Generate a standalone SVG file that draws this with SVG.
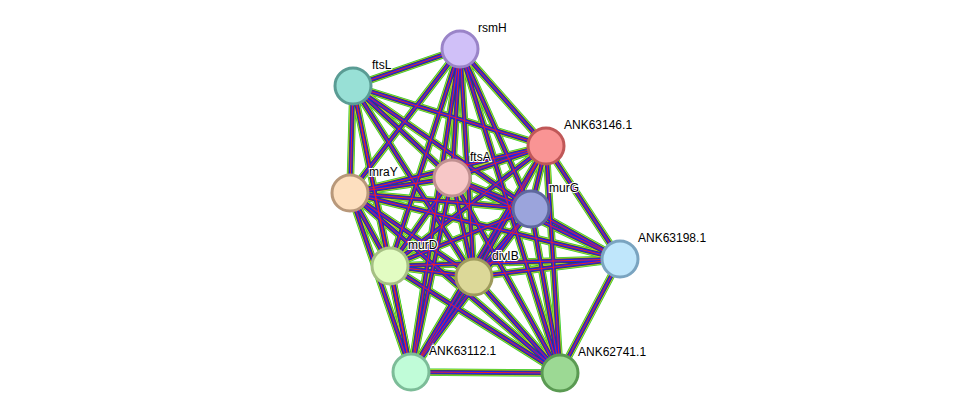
<svg xmlns="http://www.w3.org/2000/svg" xmlns:xlink="http://www.w3.org/1999/xlink" width="975" height="419" viewBox="0 0 975 419">
<style>
text{font-family:"Liberation Sans",Arial,sans-serif;font-size:12px;fill:#000;paint-order:stroke;stroke:#fff;stroke-width:2px}
circle{stroke-width:3}
</style>
<defs>
<g id="E" fill="none">
<path d="M460,49L353,86M460,49L546,146M460,49L452,178M460,49L350,193M460,49L531,209M460,49L390,266M460,49L474,277M460,49L411,372M460,49L560,373"/>
<path d="M353,86L546,146M353,86L452,178M353,86L350,193M353,86L531,209M353,86L390,266M353,86L474,277M353,86L411,372"/>
<path d="M546,146L452,178M546,146L350,193M546,146L531,209M546,146L620,259M546,146L390,266M546,146L474,277M546,146L411,372M546,146L560,373"/>
<path d="M452,178L350,193M452,178L531,209M452,178L620,259M452,178L390,266M452,178L474,277M452,178L411,372M452,178L560,373"/>
<path d="M350,193L531,209M350,193L620,259M350,193L390,266M350,193L474,277M350,193L411,372M350,193L560,373"/>
<path d="M531,209L620,259M531,209L390,266M531,209L474,277M531,209L411,372M531,209L560,373"/>
<path d="M620,259L390,266M620,259L474,277M620,259L560,373"/>
<path d="M390,266L474,277M390,266L411,372M390,266L560,373M474,277L411,372M474,277L560,373M411,372L560,373"/>
</g>
</defs>
<g id="connectors">
<use xlink:href="#E" stroke="#33cc33" stroke-width="7.5"/>
<use xlink:href="#E" stroke="#c4d82e" stroke-width="6"/>
<use xlink:href="#E" stroke="#444444" stroke-width="4.5"/>
<use xlink:href="#E" stroke="#2222ee" stroke-width="3"/>
<use xlink:href="#E" stroke="#ee2222" stroke-width="1"/>
</g>
<g id="rsmH"><circle cx="460" cy="49" r="18" fill="#d0c0f8" stroke="#9a84c8"/><text x="478" y="32">rsmH</text></g>
<g id="ftsL"><circle cx="353" cy="86" r="18" fill="#98e0d6" stroke="#5a9c94"/><text x="372" y="69">ftsL</text></g>
<g id="ANK63146.1"><circle cx="546" cy="146" r="18" fill="#f99494" stroke="#c05858"/><text x="564" y="129">ANK63146.1</text></g>
<g id="ftsA"><circle cx="452" cy="178" r="18" fill="#f7c7c7" stroke="#c09090"/><text x="470" y="161">ftsA</text></g>
<g id="mraY"><circle cx="350" cy="193" r="18" fill="#fddfbf" stroke="#b8987a"/><text x="369" y="176">mraY</text></g>
<g id="murG"><circle cx="531" cy="209" r="18" fill="#9ba4dc" stroke="#5f689e"/><text x="549" y="192">murG</text></g>
<g id="ANK63198.1"><circle cx="620" cy="259" r="18" fill="#bfe6fb" stroke="#7aa4c0"/><text x="638" y="242">ANK63198.1</text></g>
<g id="murD"><circle cx="390" cy="266" r="18" fill="#e2fcc2" stroke="#a6c084"/><text x="408" y="249">murD</text></g>
<g id="divIB"><circle cx="474" cy="277" r="18" fill="#dcd898" stroke="#9e9a5c"/><text x="492" y="260">divIB</text></g>
<g id="ANK63112.1"><circle cx="411" cy="372" r="18" fill="#c0fcd8" stroke="#7cbc98"/><text x="429" y="355">ANK63112.1</text></g>
<g id="ANK62741.1"><circle cx="560" cy="373" r="18" fill="#9cd994" stroke="#5a9a52"/><text x="578" y="356">ANK62741.1</text></g>
</svg>
